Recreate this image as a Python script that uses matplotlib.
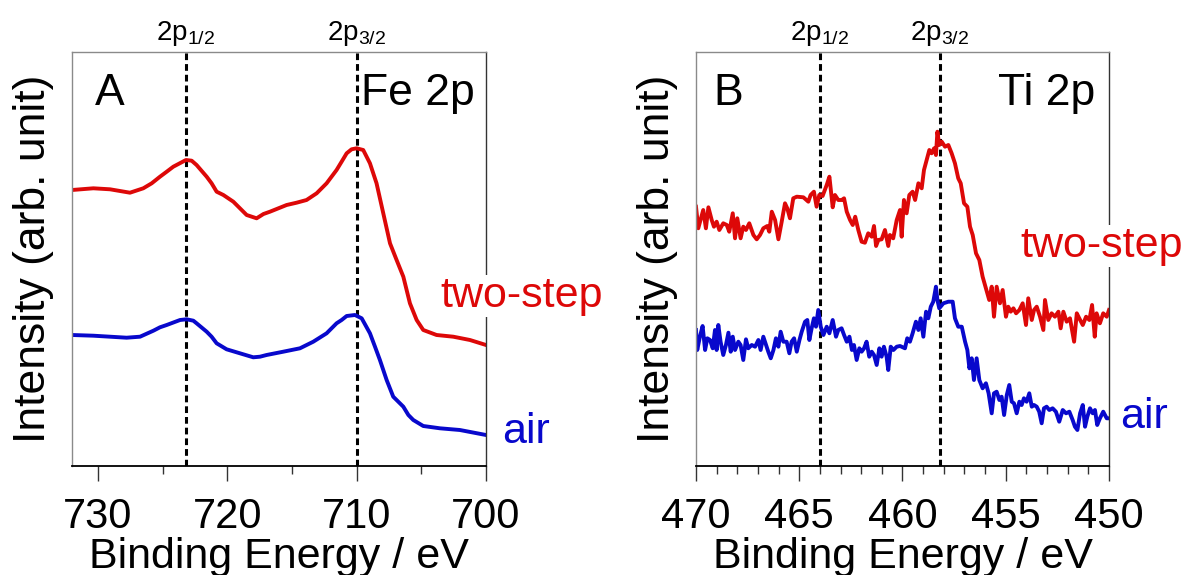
import numpy as np
import matplotlib
matplotlib.use('Agg')
import matplotlib.pyplot as plt
from matplotlib.ticker import MultipleLocator
import matplotlib.transforms as mtransforms

plt.rcParams['font.family'] = ['Liberation Sans', 'DejaVu Sans']
plt.rcParams['mathtext.fontset'] = 'custom'
plt.rcParams['mathtext.rm'] = 'Liberation Sans'
plt.rcParams['mathtext.it'] = 'Liberation Sans:italic'

''' Fe 2p (panel A) '''
fe_red_x = [732.0, 730.35, 729.06, 727.52, 726.49, 725.84, 725.2, 724.68, 724.17, 723.19,
            722.75, 722.37, 721.59, 721.21, 720.82, 720.3, 719.53, 718.5, 717.73, 717.2,
            716.7, 715.41, 714.64, 713.87, 713.09, 712.32, 711.55, 711.16, 710.77, 710.39,
            710.0, 709.49, 708.97, 708.46, 707.94, 707.42, 706.91, 706.39, 705.88, 705.36,
            704.85, 703.82, 702.53, 701.24, 700.0]
fe_red_y = [276, 277.7, 276.7, 273.3, 277.7, 282.7, 289.3, 294.3, 299.3, 306,
            305.3, 301, 289.3, 282.7, 274.3, 271, 264.3, 251, 247.7, 252,
            254.3, 261, 263.3, 266, 272.7, 282.7, 296, 304.3, 312.7, 316.7,
            317.7, 316, 302.7, 282.7, 252.7, 222.7, 206, 189.3, 162.7, 146,
            136, 131, 129.3, 126, 121]

fe_blue_x = [732.0, 730.35, 729.06, 727.78, 726.74, 725.71, 725.2, 724.68, 723.65, 723.14,
             722.62, 722.37, 721.59, 721.21, 720.82, 720.05, 719.02, 717.99, 717.47, 716.96,
             715.67, 714.38, 713.35, 712.32, 711.55, 711.16, 710.77, 710.13, 709.61, 708.97,
             708.58, 708.2, 707.68, 707.17, 706.39, 706.0, 705.62, 704.85, 703.56, 702.02,
             700.0]
fe_blue_y = [131, 130.3, 129.3, 128.3, 129.3, 135.3, 138.7, 141, 146, 146.7,
             145.3, 142.7, 134.3, 129.3, 122.7, 116.7, 112.7, 108.7, 109.3, 111,
             114.3, 117.7, 124.3, 132.7, 142.7, 146, 150, 151, 147.7, 132.7,
             119.3, 106, 86, 69.3, 59.3, 51, 46, 40, 37.7, 36,
             31]

''' Ti 2p (panel B) '''
ti_red_x = [470.0, 469.89, 469.65, 469.52, 469.4, 469.24, 469.13, 469.0, 468.87, 468.68,
            468.51, 468.39, 468.22, 468.11, 468.0, 467.84, 467.71, 467.58, 467.42, 467.22,
            467.06, 466.9, 466.74, 466.55, 466.45, 466.33, 466.17, 466.01, 465.85, 465.69,
            465.58, 465.45, 465.29, 465.12, 464.8, 464.56, 464.45, 464.29, 464.16, 464.03,
            463.87, 463.67, 463.54, 463.38, 463.27, 463.11, 462.94, 462.83, 462.7, 462.54,
            462.41, 462.29, 462.14, 461.98, 461.82, 461.66, 461.49, 461.38, 461.28, 461.17,
            461.01, 460.85, 460.69, 460.61, 460.45, 460.28, 460.12, 460.04, 459.93, 459.8,
            459.67, 459.51, 459.39, 459.23, 459.07, 458.96, 458.83, 458.7, 458.59, 458.47,
            458.38, 458.31, 458.22, 458.1, 457.94, 457.78, 457.62, 457.46, 457.3, 457.18,
            457.02, 456.86, 456.73, 456.6, 456.44, 456.28, 456.12, 455.8, 455.68, 455.57,
            455.44, 455.28, 455.15, 454.99, 454.88, 454.76, 454.63, 454.5, 454.34, 454.18,
            454.02, 453.91, 453.74, 453.63, 453.5, 453.34, 453.18, 453.1, 452.94, 452.78,
            452.62, 452.45, 452.34, 452.21, 452.05, 451.89, 451.69, 451.56, 451.44, 451.27,
            451.11, 450.95, 450.82, 450.69, 450.6, 450.44, 450.28, 450.11, 450.0]
ti_red_y = [259.3, 237.7, 256, 237.7, 258.7, 246, 239.3, 244.3, 236, 242.7,
            241, 234.3, 252.7, 227.7, 247.7, 227.7, 239.3, 236, 242.7, 231,
            226.7, 231, 237.7, 240, 234.3, 254.3, 246, 226.7, 244.3, 262.7,
            257.7, 247.7, 267.7, 269.3, 268.7, 264.3, 271, 274.3, 259.3, 271,
            270, 281, 289.3, 258.7, 271, 266, 266, 267.7, 254.3, 246,
            241, 249.3, 236, 224.3, 223.3, 232.7, 229.3, 240, 220, 226,
            226.7, 236, 220, 231, 227.7, 246, 256, 229.3, 266, 252.7,
            271, 274.3, 266, 282.7, 277.7, 296, 306, 316, 312.7, 317.7,
            311, 334.3, 321, 324.3, 319.3, 321, 312.7, 302.7, 287.7, 282.7,
            262.7, 259.3, 239.3, 231, 212.7, 206, 189.3, 166, 179.3, 149.3,
            179.3, 162.7, 176, 149.3, 159.3, 154.3, 157.7, 152.7, 156, 162.7,
            141, 167.7, 146, 156, 159.3, 149.3, 136, 166, 146, 152.7,
            149.3, 154.3, 137.7, 154.3, 144.3, 147.7, 124.3, 152.7, 147.7, 141,
            149.3, 146, 161, 129.3, 152.7, 142.7, 152.7, 149.3, 156]

ti_blue_x = [470.0, 469.94, 469.81, 469.68, 469.56, 469.45, 469.32, 469.19, 469.08, 469.0,
             468.92, 468.81, 468.68, 468.55, 468.43, 468.32, 468.22, 468.11, 467.95, 467.84,
             467.71, 467.58, 467.47, 467.3, 467.14, 466.98, 466.87, 466.74, 466.61, 466.5,
             466.38, 466.25, 466.13, 466.01, 465.9, 465.77, 465.61, 465.48, 465.37, 465.25,
             465.12, 464.99, 464.88, 464.72, 464.61, 464.51, 464.4, 464.29, 464.19, 464.08,
             463.96, 463.83, 463.67, 463.54, 463.38, 463.22, 463.11, 462.95, 462.83, 462.7,
             462.57, 462.45, 462.35, 462.22, 462.09, 461.98, 461.86, 461.74, 461.61, 461.49,
             461.38, 461.25, 461.12, 461.01, 460.9, 460.77, 460.69, 460.57, 460.44, 460.28,
             460.12, 459.88, 459.77, 459.64, 459.51, 459.35, 459.23, 459.12, 458.99, 458.86,
             458.75, 458.63, 458.51, 458.38, 458.31, 458.22, 458.02, 457.78, 457.57, 457.46,
             457.3, 457.13, 456.97, 456.86, 456.76, 456.65, 456.54, 456.41, 456.28, 456.12,
             455.96, 455.83, 455.68, 455.57, 455.44, 455.31, 455.2, 455.08, 454.95, 454.83,
             454.71, 454.6, 454.47, 454.34, 454.23, 454.12, 453.99, 453.86, 453.74, 453.63,
             453.5, 453.38, 453.26, 453.15, 453.02, 452.89, 452.73, 452.57, 452.41, 452.24,
             452.08, 451.92, 451.76, 451.65, 451.53, 451.4, 451.27, 451.16, 451.05, 450.92,
             450.79, 450.68, 450.57, 450.44, 450.28, 450.11, 450.0]
ti_blue_y = [136, 116, 129.3, 140, 116, 127.7, 126, 117.7, 136, 116,
             141, 124.3, 111, 121, 133.3, 114.3, 129.3, 116, 124.3, 121,
             106, 126.7, 117.7, 121, 119.3, 126, 116, 129.3, 121, 114.3,
             107.7, 116, 127.7, 119.3, 134.3, 124.3, 124.3, 112.7, 124.3, 127.7,
             114.3, 126, 134.3, 144.3, 146, 126, 137.7, 147.7, 139.3, 156,
             139.3, 131, 139.3, 132.7, 146, 129.3, 136, 137.7, 131, 124.3,
             129.3, 116, 121, 106, 117.7, 114.3, 117.7, 124.3, 109.3, 114.3,
             111, 101, 117.7, 109.3, 119.3, 109.3, 96, 119.3, 116, 119.3,
             120, 117.7, 127.7, 124.3, 132.7, 144.3, 136, 147.7, 129.3, 154.3,
             147.7, 159.3, 164.3, 179.3, 166, 157.7, 162.7, 164.3, 164.3, 147.7,
             139.3, 139.3, 124.3, 116, 97.7, 107.7, 86, 107.7, 86, 77.7,
             82.7, 72.7, 52.7, 72.7, 74.3, 66, 69.3, 51, 71, 81,
             64.3, 62.7, 52.7, 64.3, 61, 67.7, 64.3, 72.7, 59.3, 61,
             59.3, 54.3, 42.7, 57.7, 59.3, 56, 57.7, 54.3, 44.3, 56,
             52.7, 54.3, 46, 39.3, 36, 52.7, 61, 39.3, 49.3, 57.7,
             52.7, 56, 41, 47.7, 54.3, 47.7, 47.7]

fe_peaks = [723.2, 710.0]
ti_peaks = [464.0, 458.2]
peak_labels = [r'2p$_{\mathrm{1/2}}$', r'2p$_{\mathrm{3/2}}$']

red = '#DD0808'
blue = '#0808CC'

fig = plt.figure(figsize=(11.88, 5.75), dpi=100)
axA = fig.add_axes([72/1188, 109/575, 414/1188, 414/575])
axB = fig.add_axes([696/1188, 109/575, 413/1188, 414/575])


def style_axes(ax, xlim, major, minor):
    ax.set_xlim(*xlim)
    ax.set_ylim(0, 414)
    ax.xaxis.set_major_locator(MultipleLocator(major))
    ax.xaxis.set_minor_locator(MultipleLocator(minor))
    ax.set_yticks([])
    ax.tick_params(axis='x', which='major', direction='out', length=10.5, width=1,
                   labelsize=30, pad=11.5, color='#333333')
    ax.tick_params(axis='x', which='minor', direction='out', length=5.5, width=1,
                   color='#333333')
    for s in ['left', 'top']:
        ax.spines[s].set_color('#8a8a8a')
        ax.spines[s].set_linewidth(1)
    ax.spines['right'].set_color('#333333')
    ax.spines['right'].set_linewidth(1)
    ax.spines['bottom'].set_color('black')
    ax.spines['bottom'].set_linewidth(1.3)
    ax.set_xlabel('Binding Energy / eV', fontsize=31, labelpad=0)
    ax.text(-0.094, 0.5, 'Intensity (arb. unit)', transform=ax.transAxes,
            rotation=90, ha='center', va='center', fontsize=32)


def draw_panel(ax, xr, yr, xb, yb, peaks, letter, element, lab_pos):
    for p in peaks:
        ax.axvline(p, color='black', lw=2.2, ls=(0, (2.2, 1.3)), zorder=1)
    ax.plot(xr, yr, color=red, lw=2.8, zorder=2)
    ax.plot(xb, yb, color=blue, lw=2.8, zorder=2)
    trans = mtransforms.blended_transform_factory(ax.transData, ax.transAxes)
    for p, lab in zip(peaks, peak_labels):
        ax.text(p, 1.01, lab, transform=trans, ha='center', va='bottom', fontsize=20)
    ax.text(lab_pos[0], 0.872, letter, transform=ax.transAxes, fontsize=32, va='baseline')
    ax.text(lab_pos[1], 0.872, element, transform=ax.transAxes, fontsize=32,
            va='baseline', ha='right')
    ax.text(lab_pos[2], lab_pos[3], 'two-step', transform=ax.transAxes, fontsize=31,
            color=red, va='baseline', zorder=5,
            bbox=dict(facecolor='white', edgecolor='none', pad=1))
    ax.text(lab_pos[4], lab_pos[5], 'air', transform=ax.transAxes, fontsize=31,
            color=blue, va='baseline', zorder=5)


style_axes(axA, (732, 700), 10, 5)
style_axes(axB, (470, 450), 5, 1)
draw_panel(axA, fe_red_x, fe_red_y, fe_blue_x, fe_blue_y, fe_peaks, 'A', 'Fe 2p',
           [0.056, 0.973, (440-72)/414, (466-307)/414, (502-72)/414, (466-443)/414])
draw_panel(axB, ti_red_x, ti_red_y, ti_blue_x, ti_blue_y, ti_peaks, 'B', 'Ti 2p',
           [0.041, 0.966, (1020-696)/413, (466-257)/414, (1120-696)/413, (466-428)/414])

fig.savefig('out.png', dpi=100)
